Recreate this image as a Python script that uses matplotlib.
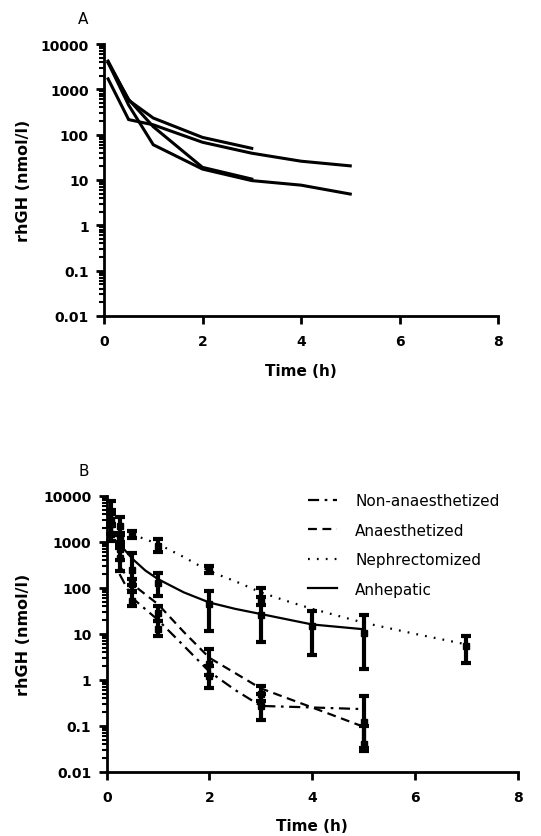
import matplotlib
matplotlib.use("Agg")
import matplotlib.pyplot as plt
from matplotlib.ticker import LogLocator, NullFormatter, FixedLocator

plt.rcParams['font.family'] = ['DejaVu Sans']

# ---------------- Panel A data (individual animals) ----------------
a_t1 = [0.083, 0.5, 1, 2, 3]
a_v1 = [4200, 575, 233, 87, 50]
a_t2 = [0.083, 0.5, 1, 2, 3, 4, 5]
a_v2 = [1700, 215, 165, 68, 39, 26, 20.5]
a_t3 = [0.083, 0.5, 1, 2, 3]
a_v3 = [3900, 600, 150, 19, 10.5]
a_t4 = [0.083, 0.5, 1, 2, 3, 4, 5]
a_v4 = [3900, 450, 60, 17.4, 9.7, 7.7, 4.9]

# ---------------- Panel B data (means and error bars) ----------------
non_t = [0.083, 0.25, 0.5, 1, 2, 3, 5]
non_mean = [3000, 450, 52, 13, 1.2, 0.27, 0.12]
non_lo = [1500, 230, 40, 9, 0.66, 0.135, 0.032]
non_hi = [5000, 740, 80, 19, 2.0, 0.5, 0.45]

ana_t = [0.083, 0.25, 0.5, 1, 2, 3, 5]
ana_mean = [4500, 700, 120, 28, 2.2, 0.5, 0.04]
ana_lo = [2500, 400, 85, 19, 1.3, 0.35, 0.028]
ana_hi = [7800, 1000, 160, 40, 4.6, 0.74, 0.1]

nep_t = [0.083, 0.25, 0.5, 1, 2, 3, 7]
nep_mean = [2500, 2200, 1450, 820, 256, 52, 5.5]
nep_lo = [1500, 1400, 1230, 600, 210, 42, 2.3]
nep_hi = [4000, 3500, 1700, 1150, 300, 64, 8.9]

anh_t = [0.083, 0.25, 0.5, 1, 2, 3, 4, 5]
anh_mean = [1500, 1200, 250, 130, 45, 26, 15, 10.5]
anh_lo = [1050, 900, 118, 66, 11.5, 6.6, 3.5, 1.7]
anh_hi = [2200, 1600, 575, 215, 85, 98, 31.6, 26]

# fitted curves
non_ct = [0.25, 0.5, 1, 1.5, 2, 2.5, 3, 4, 5]
non_cv = [200, 60, 20, 5.5, 1.5, 0.6, 0.27, 0.25, 0.23]
ana_ct = [0.25, 0.5, 1, 1.5, 2, 2.5, 3, 4, 5]
ana_cv = [300, 120, 44, 11, 3.0, 1.4, 0.65, 0.25, 0.095]
nep_ct = [0.5, 0.75, 1, 1.5, 2, 2.5, 3, 3.5, 4, 5, 6, 7]
nep_cv = [1450, 1150, 900, 470, 230, 140, 80, 52, 35, 17.5, 10, 5.9]
anh_ct = [0.25, 0.5, 0.75, 1, 1.5, 2, 2.5, 3, 4, 5]
anh_cv = [900, 430, 240, 155, 80, 48, 35, 27, 16, 12.6]

labels = ["Non-anaesthetized", "Anaesthetized", "Nephrectomized", "Anhepatic"]

yticks = [0.01, 0.1, 1, 10, 100, 1000, 10000]
yticklabels = ["0.01", "0.1", "1", "10", "100", "1000", "10000"]
xticks = [0, 2, 4, 6, 8]
xticklabels = ["0", "2", "4", "6", "8"]

W, H = 541, 837
fig = plt.figure(figsize=(W / 100, H / 100), dpi=100)

axA = fig.add_axes([104 / W, 1 - 317 / H, (498 - 104) / W, (317 - 45) / H])
axB = fig.add_axes([106.7 / W, 1 - 772.7 / H, (517.7 - 106.7) / W, (772.7 - 497) / H])


def style(ax):
    ax.set_yscale('log')
    ax.set_ylim(0.01, 10000)
    ax.set_xlim(0, 8)
    for s in ['top', 'right']:
        ax.spines[s].set_visible(False)
    for s in ['left', 'bottom']:
        ax.spines[s].set_linewidth(2)
    ax.yaxis.set_major_locator(FixedLocator(yticks))
    ax.set_yticklabels(yticklabels)
    ax.yaxis.set_minor_locator(LogLocator(base=10, subs=range(2, 10), numticks=20))
    ax.yaxis.set_minor_formatter(NullFormatter())
    ax.set_xticks(xticks)
    ax.set_xticklabels(xticklabels)
    ax.tick_params(axis='both', which='major', length=6, width=2, direction='out', pad=5)
    ax.tick_params(axis='x', pad=7)
    ax.tick_params(axis='y', which='minor', length=3.5, width=1.5)
    for lab in ax.get_xticklabels() + ax.get_yticklabels():
        lab.set_fontweight('bold')
        lab.set_fontsize(10)
    ax.set_ylabel("rhGH (nmol/l)", fontweight='bold', fontsize=11.5)
    ax.set_xlabel("Time (h)", fontweight='bold', fontsize=11)
    ax.xaxis.label.set_va('center')
    ax.yaxis.label.set_va('center')


style(axA)
style(axB)
axA.yaxis.set_label_coords((24 - 104) / 394, 0.5)
axA.xaxis.set_label_coords(0.5, (317 - 371) / 272)
axB.yaxis.set_label_coords((24 - 106.7) / 411, 0.5)
axB.xaxis.set_label_coords(0.5, (772.7 - 826.7) / 275.7)

# Panel A
for t, v in [(a_t1, a_v1), (a_t2, a_v2), (a_t3, a_v3), (a_t4, a_v4)]:
    axA.plot(t, v, color='black', lw=2.2, solid_joinstyle='miter')

# Panel B
styles = [(0, (5, 2.5, 1.2, 2.5)), (0, (4, 2.5)), (0, (0.8, 3.2)), '-']
series = [
    (non_t, non_mean, non_lo, non_hi, non_ct, non_cv),
    (ana_t, ana_mean, ana_lo, ana_hi, ana_ct, ana_cv),
    (nep_t, nep_mean, nep_lo, nep_hi, nep_ct, nep_cv),
    (anh_t, anh_mean, anh_lo, anh_hi, anh_ct, anh_cv),
]
handles = []
for (t, m, lo, hi, ct, cv), ls, lab in zip(series, styles, labels):
    ln, = axB.plot(ct, cv, color='black', lw=1.6, linestyle=ls, label=lab)
    handles.append(ln)
    yerr = [[mi - l for mi, l in zip(m, lo)], [h - mi for mi, h in zip(m, hi)]]
    axB.errorbar(t, m, yerr=yerr, fmt='s', color='black', markersize=5,
                 elinewidth=3, capsize=3.6, capthick=3, clip_on=False)

leg = fig.legend(handles=handles, labels=labels, loc='upper left',
                 bbox_to_anchor=(308 / W, 1 - 494 / H), frameon=False,
                 fontsize=11, handlelength=1.9, handletextpad=1.2,
                 labelspacing=0.95, borderpad=0, borderaxespad=0)

fig.text(83 / W, 1 - 20 / H, "A", fontsize=11, ha='center', va='center')
fig.text(84 / W, 1 - 472 / H, "B", fontsize=11, ha='center', va='center')

fig.savefig("out.png", dpi=100)
